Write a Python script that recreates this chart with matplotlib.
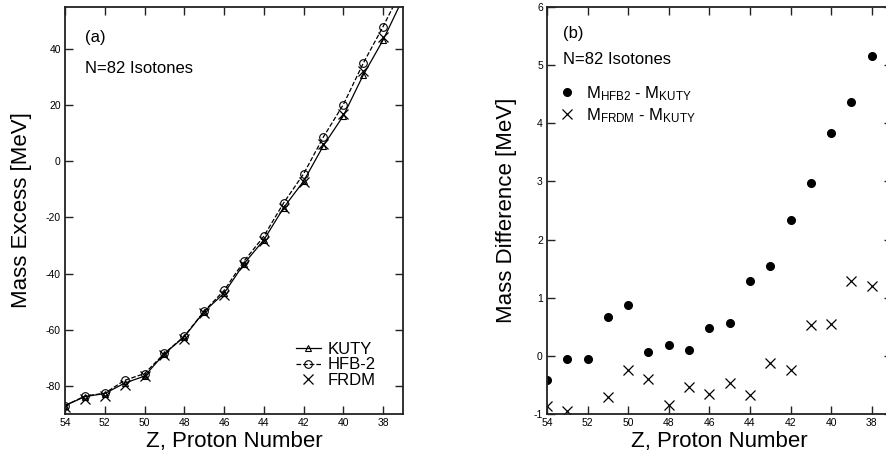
import numpy as np
import matplotlib
matplotlib.use("Agg")
import matplotlib.pyplot as plt

plt.rcParams["font.family"] = ["Liberation Sans", "DejaVu Sans"]
plt.rcParams["mathtext.fontset"] = "custom"
plt.rcParams["mathtext.rm"] = "Liberation Sans"
plt.rcParams["mathtext.it"] = "Liberation Sans"
plt.rcParams["axes.unicode_minus"] = False

# -------------------------
# Data (N=82 isotones)
# -------------------------
Z = [54, 53, 52, 51, 50, 49, 48, 47, 46, 45, 44, 43, 42, 41, 40, 39, 38, 37]

kuty = [-87.0, -83.8, -82.7, -79.0, -76.5, -68.5, -62.5, -53.5, -47.0, -36.5,
        -28.0, -16.5, -7.1, 5.6, 16.2, 30.7, 43.2, 58.0]
hfb2 = [-87.0, -83.6, -82.6, -78.0, -75.6, -68.4, -62.3, -53.4, -46.0, -35.6,
        -26.7, -14.8, -4.5, 8.7, 20.2, 34.9, 48.0, 62.0]
frdm = [-87.5, -84.5, -83.5, -79.5, -76.5, -68.9, -63.3, -54.0, -47.5, -37.0,
        -28.5, -16.6, -7.3, 6.1, 16.8, 32.0, 44.4, 59.0]

Z_diff = [54, 53, 52, 51, 50, 49, 48, 47, 46, 45, 44, 43, 42, 41, 40, 39, 38]
d_hfb2 = [-0.42, -0.06, -0.05, 0.67, 0.88, 0.06, 0.18, 0.10, 0.48, 0.56,
          1.29, 1.55, 2.33, 2.98, 3.84, 4.37, 5.15]
d_frdm = [-0.87, -0.94, -1.20, -0.71, -0.25, -0.40, -0.84, -0.53, -0.66, -0.47,
          -0.68, -0.13, -0.25, 0.53, 0.55, 1.29, 1.20]

xticks = [54, 52, 50, 48, 46, 44, 42, 40, 38]

fig = plt.figure(figsize=(8.87, 4.59), dpi=100)
ax1 = fig.add_axes([0.0733, 0.098, 0.381, 0.887])
ax2 = fig.add_axes([0.6167, 0.098, 0.389, 0.887])


def style_axes(ax):
    for s in ax.spines.values():
        s.set_linewidth(1.3)
        s.set_color("#222222")
    ax.tick_params(direction="in", length=6, width=1.0, top=True, right=True,
                   labelsize=7.5, pad=3, color="#222222")
    ax.set_xticks(xticks)
    ax.set_xlim(54, 37)


# -------------------------
# (a) mass excess
# -------------------------
ax1.plot(Z, kuty, "-", color="black", lw=0.9, marker="^", ms=4.5,
         mfc="none", mew=0.8, label="KUTY")
ax1.plot(Z, hfb2, "--", color="black", lw=0.9, marker="o", ms=5.5,
         mfc="none", mew=0.8, label="HFB-2")
ax1.plot(Z, frdm, "x", color="black", ms=6.5, mew=0.9, label="FRDM")
style_axes(ax1)
ax1.set_ylim(-90, 55)
ax1.set_yticks([-80, -60, -40, -20, 0, 20, 40])
ax1.set_xlabel("Z, Proton Number", fontsize=16, labelpad=2)
ax1.set_ylabel("Mass Excess [MeV]", fontsize=16, labelpad=10)
ax1.text(0.06, 0.925, "(a)", transform=ax1.transAxes, fontsize=12, va="center")
ax1.text(0.06, 0.848, "N=82 Isotones", transform=ax1.transAxes, fontsize=12,
         va="center")
ax1.legend(loc="upper left", bbox_to_anchor=(0.683, 0.178), frameon=False,
           fontsize=12, handlelength=1.5, handletextpad=0.4, labelspacing=0.05,
           borderpad=0, borderaxespad=0)

# -------------------------
# (b) mass differences
# -------------------------
ax2.plot(Z_diff, d_hfb2, "o", color="black", ms=5.5,
         label=r"M$_{\mathrm{HFB2}}$ - M$_{\mathrm{KUTY}}$")
ax2.plot(Z_diff, d_frdm, "x", color="black", ms=6.5, mew=0.9,
         label=r"M$_{\mathrm{FRDM}}$ - M$_{\mathrm{KUTY}}$")
style_axes(ax2)
ax2.set_ylim(-1, 6)
ax2.set_yticks([-1, 0, 1, 2, 3, 4, 5, 6])
ax2.set_xlabel("Z, Proton Number", fontsize=16, labelpad=2)
ax2.set_ylabel("Mass Difference [MeV]", fontsize=16, labelpad=12)
ax2.text(0.045, 0.935, "(b)", transform=ax2.transAxes, fontsize=12, va="center")
ax2.text(0.045, 0.87, "N=82 Isotones", transform=ax2.transAxes, fontsize=12,
         va="center")
ax2.legend(loc="upper left", bbox_to_anchor=(0.035, 0.81), frameon=False,
           fontsize=12, handlelength=1.0, handletextpad=0.6, labelspacing=0.2,
           borderpad=0, borderaxespad=0)

fig.savefig("out.png", dpi=100)
